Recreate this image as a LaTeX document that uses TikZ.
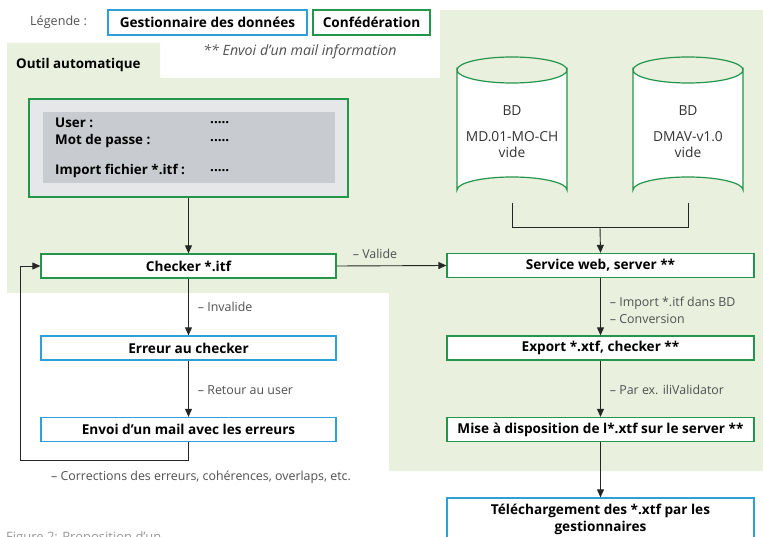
\documentclass[tikz,border=0pt]{standalone}
\usepackage{fontspec}
\setmainfont{Open Sans}
\usetikzlibrary{arrows.meta}
\definecolor{bgreen}{RGB}{233,241,222}
\definecolor{cgreen}{RGB}{35,150,75}
\definecolor{cblue}{RGB}{45,160,215}
\definecolor{formgray}{RGB}{230,231,232}
\definecolor{innergray}{RGB}{200,203,207}
\definecolor{txtgray}{RGB}{80,80,80}
\definecolor{capgray}{RGB}{150,150,150}
\begin{document}
\begin{tikzpicture}[x=1pt,y=-1pt,
  boxbase/.style={draw, line width=1.3pt, fill=white, inner sep=0pt,
    font=\fontsize{13.6}{16}\selectfont\bfseries, text=black},
  gbox/.style={boxbase, draw=cgreen},
  bbox/.style={boxbase, draw=cblue},
  wide/.style={minimum width=295pt, minimum height=24pt},
  wider/.style={minimum width=307pt, minimum height=24pt},
  lbl/.style={font=\fontsize{12.4}{17}\selectfont, text=txtgray, inner sep=0pt, align=left},
  formtxt/.style={font=\fontsize{13.4}{16}\selectfont\bfseries, inner sep=0pt, anchor=west},
  conn/.style={draw=black!85, line width=0.9pt, -{Triangle[width=7pt,length=8pt]}},
  plain/.style={draw=black!85, line width=0.9pt},
  cyl/.style={draw=cgreen, line width=1.2pt, fill=white},
  cyltxt/.style={font=\fontsize{13.8}{16}\selectfont, text=black!80, align=center, inner sep=0pt}
]
\useasboundingbox (0,0) rectangle (763,537);

% green background
\fill[bgreen] (7,43) -- (160,43) -- (160,78) -- (440,78) -- (440,10) -- (763,10)
  -- (763,471) -- (389,471) -- (389,293) -- (7,293) -- cycle;

% legend
\node[font=\fontsize{12.6}{15}\selectfont, text=txtgray, anchor=west, inner sep=0pt] (leg) at (30,22) {Légende :};
\node[bbox, minimum width=199pt, minimum height=25pt] (legb) at (207.5,22.5) {Gestionnaire des données};
\node[gbox, minimum width=117pt, minimum height=25pt] (legg) at (371.5,22.5) {Confédération};
\node[font=\fontsize{14.2}{16}\selectfont\itshape, text=txtgray, inner sep=0pt] (legm) at (300,52) {** Envoi d’un mail information};
\node[font=\fontsize{13.4}{16}\selectfont\bfseries, anchor=west, inner sep=0pt] (outil) at (16,65) {Outil automatique};

% form
\node[draw=cgreen, line width=1.3pt, fill=formgray, minimum width=319pt, minimum height=98pt, inner sep=0pt] (form) at (188.5,148) {};
\node[fill=innergray, minimum width=292pt, minimum height=71pt, inner sep=0pt] (inner) at (189,147.5) {};
\node[formtxt] (u) at (55,123) {User :};
\node[formtxt] (m) at (55,141) {Mot de passe :};
\node[formtxt] (i) at (55,171) {Import fichier *.itf :};
\node[formtxt] (ud) at (210,123) {.....};
\node[formtxt] (md) at (210,141) {.....};
\node[formtxt] (id) at (210,171) {.....};

% left column
\node[gbox, wide] (checker) at (188.5,266) {Checker *.itf};
\node[bbox, wide] (erreur) at (188.5,348) {Erreur au checker};
\node[bbox, wide] (envoi) at (188.5,429.5) {Envoi d’un mail avec les erreurs};
\coordinate (loopc) at (20,460);

\draw[conn] (form.south) -- (checker.north);
\draw[conn] (checker.south) -- node[lbl, anchor=west, xshift=9pt] {– Invalide} (erreur.north);
\draw[conn] (erreur.south) -- node[lbl, anchor=west, xshift=9pt, yshift=-1pt] {– Retour au user} (envoi.north);
\draw[conn] (envoi.south) |- (loopc) |- (checker.west);
\node[lbl, anchor=west] (corr) at (51,477) {– Corrections des erreurs, cohérences, overlaps, etc.};

% databases
\path[cyl] (457,70) -- (457,190) arc[start angle=180, end angle=360, x radius=55, y radius=13]
  -- (567,70) arc[start angle=0, end angle=180, x radius=55, y radius=13] -- cycle;
\draw[cyl, fill=none] (457,70) arc[start angle=180, end angle=360, x radius=55, y radius=13];
\path[cyl] (633,70) -- (633,190) arc[start angle=180, end angle=360, x radius=55, y radius=13]
  -- (743,70) arc[start angle=0, end angle=180, x radius=55, y radius=13] -- cycle;
\draw[cyl, fill=none] (633,70) arc[start angle=180, end angle=360, x radius=55, y radius=13];
\node[cyltxt] (db1) at (512,132) {BD\\[10pt]MD.01-MO-CH\\vide};
\node[cyltxt] (db2) at (688,132) {BD\\[10pt]DMAV-v1.0\\vide};
\coordinate (db1b) at (512,203);
\coordinate (db2b) at (688,203);
\coordinate (dbj) at (600,227);

% right column
\node[gbox, wider] (service) at (600.5,265.5) {Service web, server **};
\node[gbox, wider] (export) at (600.5,348) {Export *.xtf, checker **};
\node[gbox, wider] (mise) at (600.5,429.5) {Mise à disposition de l*.xtf sur le server **};
\node[bbox, minimum width=307pt, minimum height=50pt, align=center, font=\fontsize{13.6}{16.5}\selectfont\bfseries] (tele) at (600.5,523) {};
\node[font=\fontsize{13.6}{16.5}\selectfont\bfseries, align=center, inner sep=0pt] (teletxt) at (600.5,519.5) {Téléchargement des *.xtf par les\\gestionnaires};

\draw[plain] (db1b) |- (dbj);
\draw[plain] (db2b) |- (dbj);
\draw[conn] (dbj) -- (service.north);
\draw[conn] (checker.east) -- node[lbl, above=7pt, pos=0.35] {– Valide} (service.west);
\draw[conn] (service.south) -- node[lbl, anchor=west, xshift=9pt, yshift=-4pt] {– Import *.itf dans BD\\– Conversion} (export.north);
\draw[conn] (export.south) -- node[lbl, anchor=west, xshift=9pt, yshift=-1pt] {– Par ex. iliValidator} (mise.north);
\draw[conn] (mise.south) -- (tele.north);

% caption (cut off)
\node[font=\fontsize{13}{15}\selectfont, text=capgray, anchor=base west, inner sep=0pt] (cap) at (6,541) {Figure 2: Proposition d’un};
\end{tikzpicture}
\end{document}
